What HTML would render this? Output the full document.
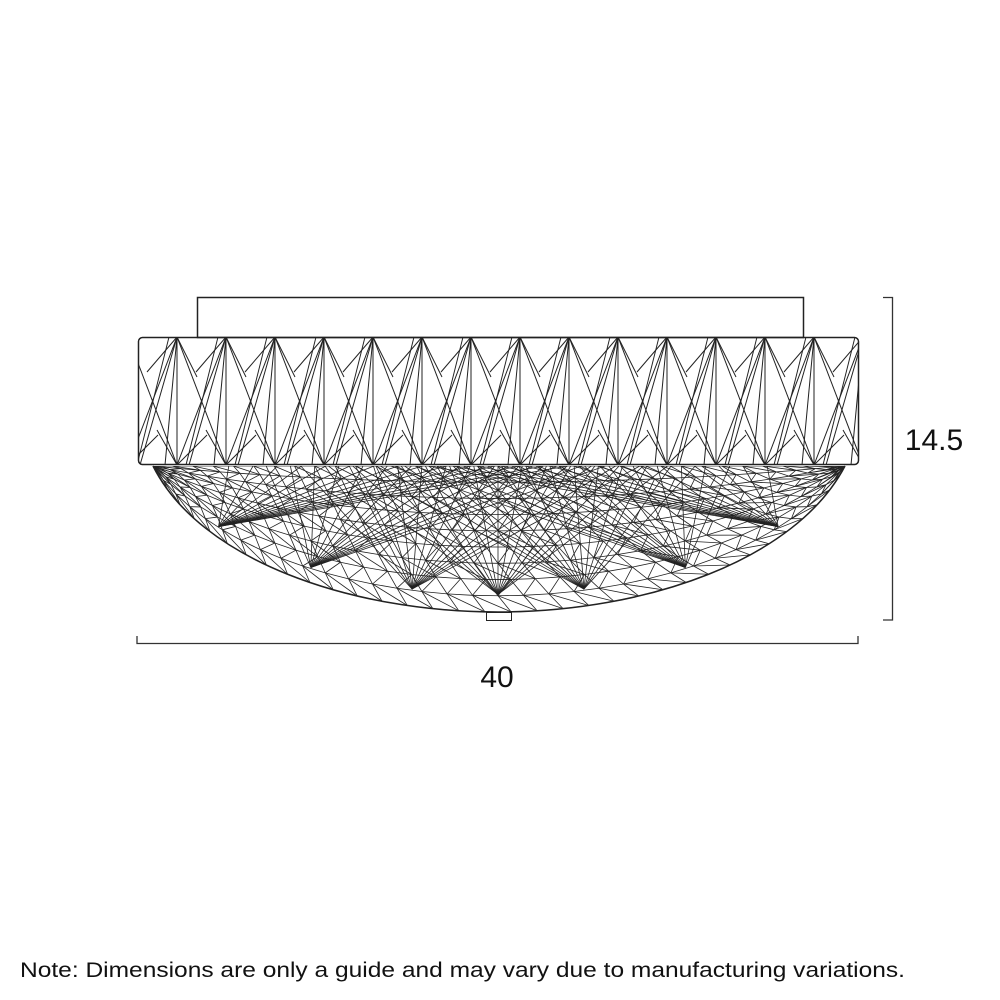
<!DOCTYPE html>
<html><head><meta charset="utf-8"><style>
html,body{margin:0;padding:0;background:#fff;width:1000px;height:1000px;overflow:hidden}
svg{position:absolute;left:0;top:0}
.t{font-family:"Liberation Sans",sans-serif;fill:#111}
</style></head><body>
<svg id="s" width="1000" height="1000" viewBox="0 0 1000 1000" xmlns="http://www.w3.org/2000/svg">
<defs><clipPath id="bc"><path d="M153,466 C200,560 350,612 498,612 C646,612 796,560 845,466 Z"/></clipPath>
<clipPath id="rc"><rect x="138" y="337" width="721" height="128" rx="4"/></clipPath></defs>
<rect x="197.5" y="297.5" width="606" height="40" fill="none" stroke="#222" stroke-width="1.5"/>
<g id="band" clip-path="url(#rc)" stroke="#222" stroke-width="1" fill="none"></g>
<rect x="138.5" y="337.5" width="720" height="127" rx="4" fill="none" stroke="#222" stroke-width="1.5"/>
<g id="bowl" clip-path="url(#bc)" stroke="#222" stroke-width="0.8" fill="none"></g>
<path d="M153,466 C200,560 350,612 498,612 C646,612 796,560 845,466" fill="none" stroke="#222" stroke-width="1.5"/>
<rect x="486.5" y="612.5" width="25" height="8" fill="none" stroke="#222" stroke-width="1"/>
<path d="M137,636 V643.5 H858 V636" fill="none" stroke="#333" stroke-width="1.3"/>
<path d="M883,297.5 H892.5 V620 H883" fill="none" stroke="#333" stroke-width="1.3"/>
<text class="t" x="934" y="450" font-size="30" text-anchor="middle">14.5</text>
<text class="t" x="497" y="687" font-size="30" text-anchor="middle">40</text>
<text class="t" x="20" y="977" font-size="21" textLength="885" lengthAdjust="spacingAndGlyphs">Note: Dimensions are only a guide and may vary due to manufacturing variations.</text>
</svg>
<script>
var NS="http://www.w3.org/2000/svg";
function L(g,x1,y1,x2,y2){var l=document.createElementNS(NS,"line");l.setAttribute("x1",x1);l.setAttribute("y1",y1);l.setAttribute("x2",x2);l.setAttribute("y2",y2);g.appendChild(l);}
var band=document.getElementById("band");
var T=337,B=465;
for(var k=-1;k<16;k++){
 var tx=226+49*k, bx=177+49*k, bx2=bx+49, tx0=tx-49;
 L(band,tx,T,bx,B);L(band,tx,T,bx2,B);
 L(band,tx,T,tx,B);L(band,bx,T,bx,B);
 L(band,tx,T,bx+12,B);L(band,tx,T,bx2-12,B);
 L(band,tx,T,tx-30,T+35);L(band,tx,T,tx+20,T+40);
 L(band,bx,B,bx-20,B-35);L(band,bx,B,bx+30,B-30);
 L(band,tx0,T,bx2,B);L(band,tx-8,T,tx-40,B);
}
var bowl=document.getElementById("bowl");
function cub(p0,p1,p2,p3,s){var a=1-s;return a*a*a*p0+3*a*a*s*p1+3*a*s*s*p2+s*s*s*p3;}
function bot(u){ if(u<0){var s=u+1;return [cub(153,200,350,498,s),cub(466,560,612,612,s)];} else {var s=u;return [cub(498,646,796,845,s),cub(612,612,560,466,s)];}}
function P(u,t){var b=bot(u);var tx=498+u*346;return [tx+(b[0]-tx)*t,466+(b[1]-466)*t];}
var R=9,C=34;
for(var r=0;r<=R;r++){
 var t=r/R;
 for(var c=0;c<C;c++){
  var off=(r%2)*0.5;
  var u1=-1+2*(c+off)/C,u2=-1+2*(c+1+off)/C;
  var a=P(u1,t),b=P(u2,t);
  L(bowl,a[0],a[1],b[0],b[1]);
  if(r<R){var t2=(r+1)/R,off2=((r+1)%2)*0.5;
   var d=P(-1+2*(c+off2)/C,t2),e=P(-1+2*(c+1+off2)/C,t2);
   L(bowl,a[0],a[1],d[0],d[1]);L(bowl,a[0],a[1],e[0],e[1]);}
 }
}
var fans=[-0.72,-0.45,-0.2,0,0.2,0.45,0.72];
fans.forEach(function(f){var p=P(f,0.88);
 for(var i=-7;i<=7;i++){var q=P(f*0.4+i*0.07,0);L(bowl,p[0],p[1],q[0],q[1]);}
});
</script>
</body></html>
